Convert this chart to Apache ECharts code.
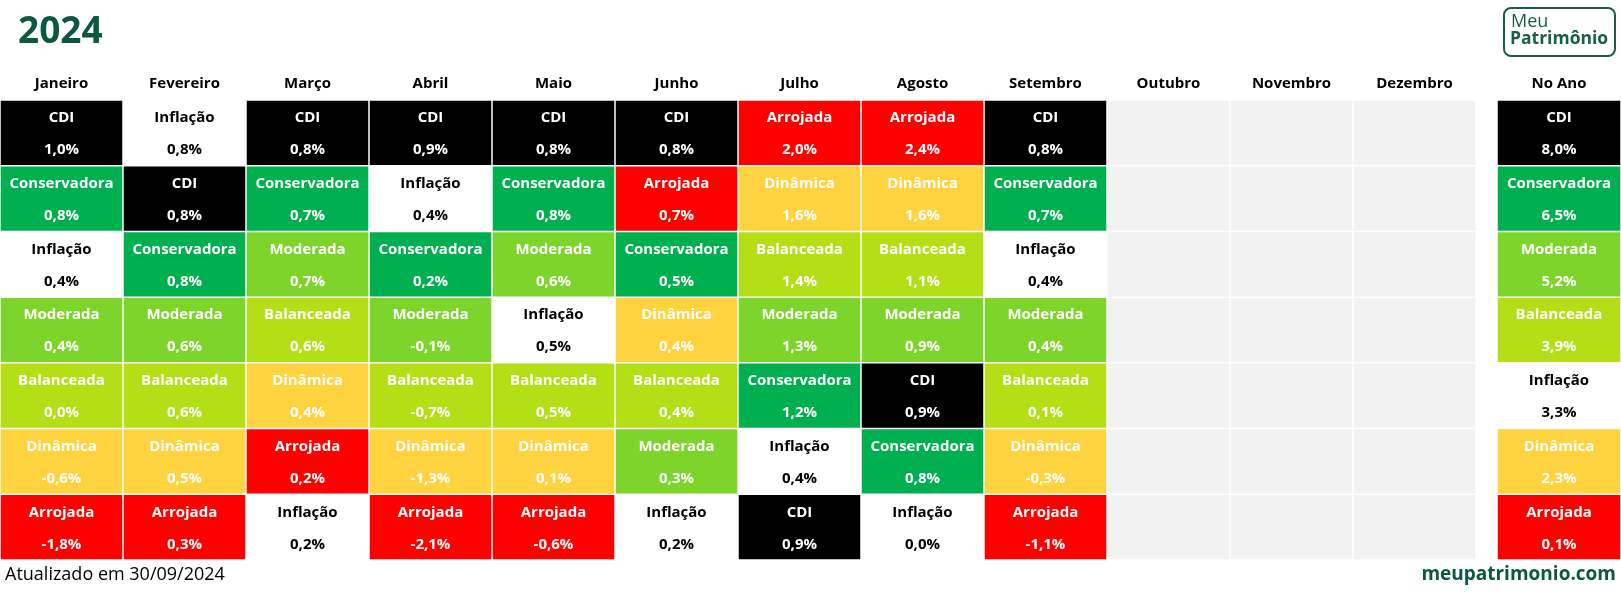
<!DOCTYPE html>
<html>
<head>
<meta charset="utf-8">
<script src="https://cdn.jsdelivr.net/npm/echarts@6/dist/echarts.min.js"></script>
<style>
html,body{margin:0;padding:0;background:#fff;}
#chart{width:1621px;height:595px;}
</style>
</head>
<body>
<div id="chart"></div>
<script>
// ---- Data ----
const months = ['Janeiro','Fevereiro','Março','Abril','Maio','Junho','Julho','Agosto','Setembro','Outubro','Novembro','Dezembro'];
const ranks = ['1','2','3','4','5','6','7'];

const janNames = ['CDI','Conservadora','Inflação','Moderada','Balanceada','Dinâmica','Arrojada'];
const janValues = [1.0, 0.8, 0.4, 0.4, 0.0, -0.6, -1.8];
const fevNames = ['Inflação','CDI','Conservadora','Moderada','Balanceada','Dinâmica','Arrojada'];
const fevValues = [0.8, 0.8, 0.8, 0.6, 0.6, 0.5, 0.3];
const marNames = ['CDI','Conservadora','Moderada','Balanceada','Dinâmica','Arrojada','Inflação'];
const marValues = [0.8, 0.7, 0.7, 0.6, 0.4, 0.2, 0.2];
const abrNames = ['CDI','Inflação','Conservadora','Moderada','Balanceada','Dinâmica','Arrojada'];
const abrValues = [0.9, 0.4, 0.2, -0.1, -0.7, -1.3, -2.1];
const maiNames = ['CDI','Conservadora','Moderada','Inflação','Balanceada','Dinâmica','Arrojada'];
const maiValues = [0.8, 0.8, 0.6, 0.5, 0.5, 0.1, -0.6];
const junNames = ['CDI','Arrojada','Conservadora','Dinâmica','Balanceada','Moderada','Inflação'];
const junValues = [0.8, 0.7, 0.5, 0.4, 0.4, 0.3, 0.2];
const julNames = ['Arrojada','Dinâmica','Balanceada','Moderada','Conservadora','Inflação','CDI'];
const julValues = [2.0, 1.6, 1.4, 1.3, 1.2, 0.4, 0.9];
const agoNames = ['Arrojada','Dinâmica','Balanceada','Moderada','CDI','Conservadora','Inflação'];
const agoValues = [2.4, 1.6, 1.1, 0.9, 0.9, 0.8, 0.0];
const setNames = ['CDI','Conservadora','Inflação','Moderada','Balanceada','Dinâmica','Arrojada'];
const setValues = [0.8, 0.7, 0.4, 0.4, 0.1, -0.3, -1.1];

const anoNames = ['CDI','Conservadora','Moderada','Balanceada','Inflação','Dinâmica','Arrojada'];
const anoValues = [8.0, 6.5, 5.2, 3.9, 3.3, 2.3, 0.1];

const monthNames = [janNames, fevNames, marNames, abrNames, maiNames, junNames, julNames, agoNames, setNames];
const monthValues = [janValues, fevValues, marValues, abrValues, maiValues, junValues, julValues, agoValues, setValues];

// ---- Styles ----
const fillColor = {
  'CDI': '#000000',
  'Inflação': '#ffffff',
  'Conservadora': '#00b050',
  'Moderada': '#7dd52c',
  'Balanceada': '#b4de16',
  'Dinâmica': '#ffd23f',
  'Arrojada': '#ff0000'
};
const textColor = name => name === 'Inflação' ? '#000000' : '#ffffff';
const FONT = '"Open Sans", "Noto Sans", sans-serif';

function fmt(v) {
  return v.toFixed(1).replace('.', ',') + '%';
}

// ---- Build data ----
const monthData = [];
months.forEach((m, i) => {
  ranks.forEach((r, j) => {
    if (i < monthNames.length) {
      monthData.push([i, j, monthValues[i][j], monthNames[i][j]]);
    } else {
      monthData.push([i, j, null, '']);
    }
  });
});
const anoData = anoNames.map((n, j) => [0, j, anoValues[j], n]);

function renderCell(params, api) {
  const x = api.value(0), y = api.value(1);
  const c = api.coord([x, y]);
  const s = api.size([1, 1]);
  const src = params.seriesIndex === 0 ? monthData : anoData;
  const name = src[params.dataIndex][3];
  const val = src[params.dataIndex][2];
  const left = c[0] - s[0] / 2, top = c[1] - s[1] / 2;
  const gap = 1.5;
  const children = [{
    type: 'rect',
    shape: { x: left + gap / 2, y: top + gap / 2, width: s[0] - gap, height: s[1] - gap },
    style: { fill: name ? fillColor[name] : '#f2f2f2' },
    silent: true
  }];
  if (name) {
    const tc = textColor(name);
    children.push({
      type: 'text',
      style: { text: name, x: c[0], y: top + 18, align: 'center', verticalAlign: 'middle',
        fill: tc, font: 'bold 15px ' + FONT }
    });
    children.push({
      type: 'text',
      style: { text: fmt(val), x: c[0], y: top + 50, align: 'center', verticalAlign: 'middle',
        fill: tc, font: 'bold 15px ' + FONT }
    });
  }
  return { type: 'group', children };
}

const axisLabelStyle = { color: '#000', fontWeight: 'bold', fontSize: 15, fontFamily: FONT, margin: 9, interval: 0 };

const chart = echarts.init(document.getElementById('chart'), null, { renderer: 'canvas' });
chart.setOption({
  animation: false,
  backgroundColor: '#ffffff',
  grid: [
    { left: 0, top: 100, width: 1476, height: 460 },
    { left: 1497, top: 100, width: 124, height: 460 }
  ],
  xAxis: [
    { type: 'category', gridIndex: 0, data: months, position: 'top',
      axisLine: { show: false }, axisTick: { show: false }, splitLine: { show: false },
      axisLabel: axisLabelStyle },
    { type: 'category', gridIndex: 1, data: ['No Ano'], position: 'top',
      axisLine: { show: false }, axisTick: { show: false }, splitLine: { show: false },
      axisLabel: axisLabelStyle }
  ],
  yAxis: [
    { type: 'category', gridIndex: 0, data: ranks, inverse: true, show: false },
    { type: 'category', gridIndex: 1, data: ranks, inverse: true, show: false }
  ],
  series: [
    { type: 'custom', xAxisIndex: 0, yAxisIndex: 0, data: monthData, renderItem: renderCell, encode: { x: 0, y: 1 } },
    { type: 'custom', xAxisIndex: 1, yAxisIndex: 1, data: anoData, renderItem: renderCell, encode: { x: 0, y: 1 } }
  ],
  graphic: [
    { type: 'text', left: 18, top: 14,
      style: { text: '2024', fill: '#0b5741', font: 'bold 37px ' + FONT } },
    { type: 'rect', left: 1503, top: 7,
      shape: { width: 111, height: 48, r: 7 },
      style: { fill: '#ffffff', stroke: '#1b5e46', lineWidth: 2 } },
    { type: 'text', left: 1511, top: 13,
      style: { text: 'Meu', fill: '#1b5e46', font: '18px ' + FONT } },
    { type: 'text', left: 1510, top: 30,
      style: { text: 'Patrimônio', fill: '#1b5e46', font: 'bold 17.5px ' + FONT } },
    { type: 'text', left: 5, top: 566,
      style: { text: 'Atualizado em 30/09/2024', fill: '#000000', font: '18px ' + FONT } },
    { type: 'text', right: 5, top: 565,
      style: { text: 'meupatrimonio.com', fill: '#0b5741', font: 'bold 19px ' + FONT } }
  ]
});
</script>
</body>
</html>
